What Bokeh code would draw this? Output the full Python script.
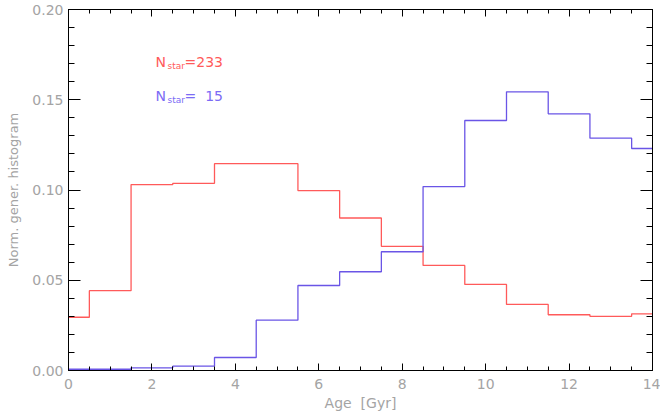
from bokeh.plotting import figure
from bokeh.models import LinearAxis, FixedTicker, PrintfTickFormatter, Range1d, Label
from bokeh.embed import file_html
from bokeh.resources import INLINE

# Data: bin centres (Gyr) and normalised histogram values
age = [0, 1, 2, 3, 4, 5, 6, 7, 8, 9, 10, 11, 12, 13, 14]
hist_red = [0.0295, 0.0442, 0.1030, 0.1037, 0.1146, 0.1146, 0.0997, 0.0845,
            0.0688, 0.0582, 0.0477, 0.0366, 0.0309, 0.0300, 0.0314]
hist_blue = [0.0007, 0.0007, 0.0015, 0.0024, 0.0072, 0.0279, 0.0471, 0.0547,
             0.0658, 0.1019, 0.1385, 0.1544, 0.1422, 0.1287, 0.1230]
x_ticks = [0, 2, 4, 6, 8, 10, 12, 14]
y_ticks = [0.00, 0.05, 0.10, 0.15, 0.20]
n_red = "233"
n_blue = "\u00a0\u00a015"

RED = "#ff5a5a"
BLUE = "#6a55e6"
GRAY = "#a4a4a4"
FONT = "DejaVu Sans"

p = figure(width=660, height=418, output_backend="svg", toolbar_location=None,
           x_range=Range1d(0, 14), y_range=Range1d(0, 0.2),
           x_axis_location=None, y_axis_location=None,
           min_border_left=68, min_border_right=8, min_border_top=9, min_border_bottom=48)
p.grid.visible = False
p.outline_line_color = "black"
p.background_fill_color = "white"
p.border_fill_color = "white"

x_minor = [i * 0.5 for i in range(0, 29)]
y_minor = [round(i * 0.01, 2) for i in range(0, 21)]

def make_x(show):
    ax = LinearAxis(ticker=FixedTicker(ticks=x_ticks, minor_ticks=x_minor))
    ax.major_tick_in = 7
    ax.major_tick_out = 0
    ax.minor_tick_in = 4
    ax.minor_tick_out = 0
    ax.axis_line_color = "black"
    ax.major_tick_line_color = "black"
    ax.minor_tick_line_color = "black"
    ax.major_label_text_color = GRAY
    ax.major_label_text_font = FONT
    ax.major_label_text_font_size = "14px"
    ax.major_label_standoff = 8
    if not show:
        ax.major_label_text_font_size = "0px"
        ax.major_label_text_alpha = 0
    return ax

def make_y(show):
    ax = LinearAxis(ticker=FixedTicker(ticks=y_ticks, minor_ticks=y_minor),
                    formatter=PrintfTickFormatter(format="%.2f"))
    ax.major_tick_in = 12
    ax.major_tick_out = 0
    ax.minor_tick_in = 6
    ax.minor_tick_out = 0
    ax.axis_line_color = "black"
    ax.major_tick_line_color = "black"
    ax.minor_tick_line_color = "black"
    ax.major_label_text_color = GRAY
    ax.major_label_text_font = FONT
    ax.major_label_text_font_size = "14px"
    ax.major_label_standoff = 5
    if not show:
        ax.major_label_text_font_size = "0px"
        ax.major_label_text_alpha = 0
    return ax

xb = make_x(True)
xb.axis_label = "Age\u00a0\u00a0[Gyr]"
xb.axis_label_text_color = GRAY
xb.axis_label_text_font = FONT
xb.axis_label_text_font_size = "14px"
xb.axis_label_text_font_style = "normal"
xb.axis_label_standoff = 3
p.add_layout(xb, "below")
p.add_layout(make_x(False), "above")

yl = make_y(True)
yl.axis_label = "Norm. gener. histogram"
yl.axis_label_text_color = GRAY
yl.axis_label_text_font = FONT
yl.axis_label_text_font_size = "13px"
yl.axis_label_text_font_style = "normal"
yl.axis_label_standoff = 8
p.add_layout(yl, "left")
p.add_layout(make_y(False), "right")

p.step(age, hist_red, mode="center", line_color=RED, line_width=1.3)
p.step(age, hist_blue, mode="center", line_color=BLUE, line_width=1.3)

def nstar(y, n, color):
    p.add_layout(Label(x=2.086, y=y, text="N", text_color=color, text_font=FONT,
                       text_font_size="14px", text_baseline="alphabetic"))
    p.add_layout(Label(x=2.086, y=y, x_offset=12, y_offset=-4, text="star",
                       text_color=color, text_font=FONT, text_font_size="9px",
                       text_baseline="alphabetic"))
    p.add_layout(Label(x=2.086, y=y, x_offset=29, text="=" + n, text_color=color,
                       text_font=FONT, text_font_size="14px", text_baseline="alphabetic"))

nstar(0.1708, n_red, RED)
nstar(0.1520, n_blue, "#7b6bf5")

open("out.html", "w").write(file_html(p, INLINE))
